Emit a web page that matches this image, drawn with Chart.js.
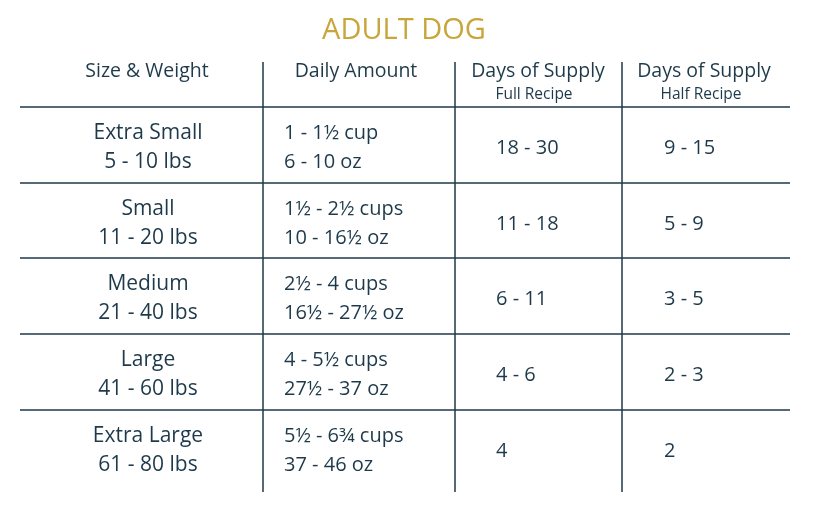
<!DOCTYPE html>
<html><head><meta charset="utf-8">
<script src="https://cdn.jsdelivr.net/npm/chart.js@4"></script>
<style>html,body{margin:0;background:#fff}#wrap{width:828px;height:506px}</style>
</head><body><div id="wrap"><canvas id="tbl"></canvas></div>
<script>
const title = 'ADULT DOG';
const headers = ['Size & Weight', 'Daily Amount', 'Days of Supply', 'Days of Supply'];
const subHeaders = ['', '', 'Full Recipe', 'Half Recipe'];
const sizes = ['Extra Small', 'Small', 'Medium', 'Large', 'Extra Large'];
const weights = ['5 - 10 lbs', '11 - 20 lbs', '21 - 40 lbs', '41 - 60 lbs', '61 - 80 lbs'];
const cups = ['1 - 1½ cup', '1½ - 2½ cups', '2½ - 4 cups', '4 - 5½ cups', '5½ - 6¾ cups'];
const ounces = ['6 - 10 oz', '10 - 16½ oz', '16½ - 27½ oz', '27½ - 37 oz', '37 - 46 oz'];
const fullDays = ['18 - 30', '11 - 18', '6 - 11', '4 - 6', '4'];
const halfDays = ['9 - 15', '5 - 9', '3 - 5', '2 - 3', '2'];

const ink = '#1e3a4a', gold = '#c8a63c';
const rowTop = [107, 183, 258, 334, 410];
const rowH = 76;

const tablePlugin = {
  id: 'tablePlugin',
  afterDraw(chart) {
    const c = chart.ctx, X = v => chart.scales.x.getPixelForValue(v), Y = v => chart.scales.y.getPixelForValue(v);
    const txt = (s, x, y, size, color, align) => {
      c.font = size + 'px "Open Sans", sans-serif';
      c.fillStyle = color; c.textAlign = align || 'center'; c.textBaseline = 'middle';
      c.fillText(s, X(x), Y(y));
    };
    c.save();
    txt(title, 404, 31, 29, gold);
    txt(headers[0], 147, 71, 19.5, ink);
    txt(headers[1], 356, 71, 19.5, ink);
    txt(headers[2], 538, 71, 19.5, ink);
    txt(headers[3], 704, 71, 19.5, ink);
    txt(subHeaders[2], 534, 95, 15.5, ink);
    txt(subHeaders[3], 701, 95, 15.5, ink);
    c.strokeStyle = ink; c.lineWidth = 1.5;
    c.beginPath();
    rowTop.forEach(y => { c.moveTo(X(20), Y(y)); c.lineTo(X(790), Y(y)); });
    [263, 455, 622].forEach(x => { c.moveTo(X(x), Y(62)); c.lineTo(X(x), Y(492)); });
    c.stroke();
    sizes.forEach((s, i) => {
      const t = rowTop[i], mid = t + rowH / 2;
      txt(s, 148, mid - 12, 21, ink);
      txt(weights[i], 148, mid + 17, 21, ink);
      txt(cups[i], 284, mid - 12, 20, ink, 'left');
      txt(ounces[i], 284, mid + 17, 20, ink, 'left');
      txt(fullDays[i], 496, mid + 3, 20, ink, 'left');
      txt(halfDays[i], 664, mid + 3, 20, ink, 'left');
    });
    c.restore();
  }
};

new Chart(document.getElementById('tbl'), {
  type: 'scatter',
  data: { datasets: [{ data: [] }] },
  options: {
    responsive: true, maintainAspectRatio: false, animation: false,
    layout: { padding: 0 },
    plugins: { legend: { display: false }, tooltip: { enabled: false } },
    scales: {
      x: { type: 'linear', min: 0, max: 828, display: false },
      y: { type: 'linear', min: 0, max: 506, reverse: true, display: false }
    }
  },
  plugins: [tablePlugin]
});
</script></body></html>
